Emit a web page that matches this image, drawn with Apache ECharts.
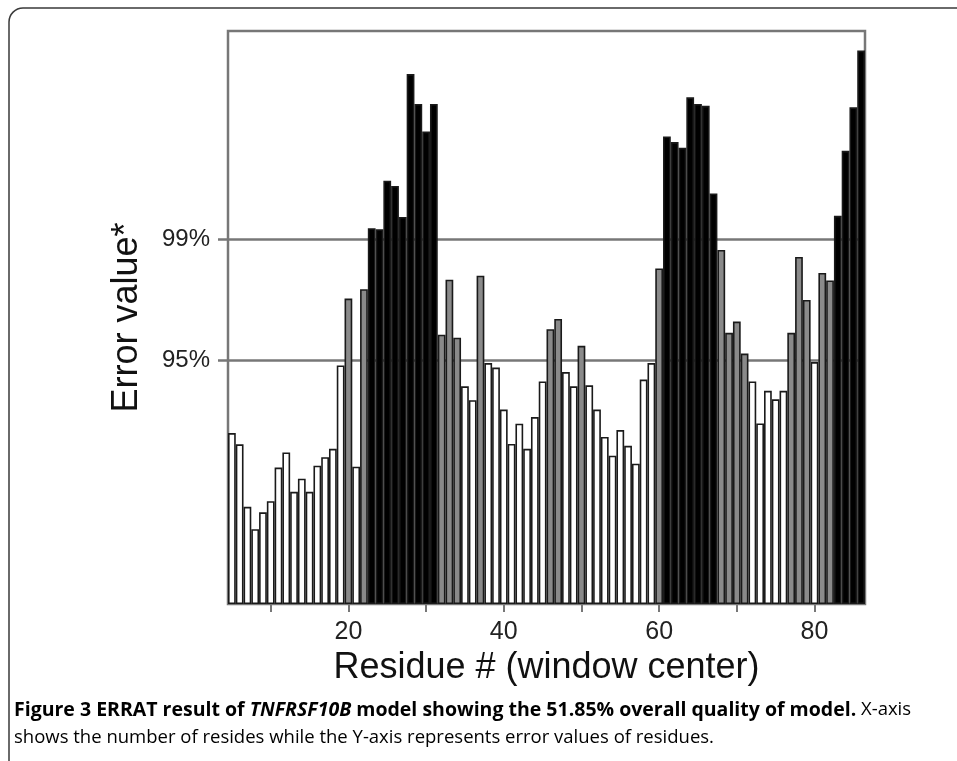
<!DOCTYPE html>
<html>
<head>
<meta charset="utf-8">
<script src="https://cdn.jsdelivr.net/npm/echarts@6/dist/echarts.min.js"></script>
<style>
  html, body { margin: 0; padding: 0; background: #ffffff; }
  #chart { width: 957px; height: 761px; }
</style>
</head>
<body>
<div id="chart"></div>
<script>
// Residue numbers (window center)
const residues = ['5','6','7','8','9','10','11','12','13','14','15','16','17','18','19','20',
  '21','22','23','24','25','26','27','28','29','30','31','32','33','34','35','36','37','38','39','40',
  '41','42','43','44','45','46','47','48','49','50','51','52','53','54','55','56','57','58','59','60',
  '61','62','63','64','65','66','67','68','69','70','71','72','73','74','75','76','77','78','79','80',
  '81','82','83','84','85','86'];

// Error values
const errorValues = [8.02, 7.49, 4.56, 3.51, 4.30, 4.82, 6.40, 7.11, 5.26, 5.88, 5.26, 6.49, 6.89, 7.28, 11.19, 14.33,
  6.44, 14.77, 17.63, 17.58, 19.86, 19.61, 18.16, 24.86, 23.46, 22.16, 23.46, 12.63, 15.21, 12.49, 10.21, 9.56, 15.40, 11.30, 11.09, 9.12,
  7.51, 8.46, 7.28, 8.77, 10.44, 12.89, 13.37, 10.88, 10.21, 12.11, 10.26, 9.12, 7.84, 6.96, 8.16, 7.42, 6.58, 10.53, 11.30, 15.74,
  21.93, 21.67, 21.40, 23.77, 23.46, 23.37, 19.26, 16.61, 12.72, 13.25, 11.75, 10.44, 8.47, 10.00, 9.60, 10.00, 12.72, 16.28, 14.26, 11.35,
  15.53, 15.18, 18.21, 21.26, 23.30, 25.96];

// Confidence thresholds and their labels
const thresholdValues = [11.44, 17.1];
const thresholdLabels = ['95%', '99%'];
const yMax = 26.88;

// Tick marks and labels on the x axis
const xTickMarks = ['10','20','30','40','50','60','70','80'];
const xTickLabels = ['20','40','60','80'];

const chart = echarts.init(document.getElementById('chart'), null, { renderer: 'canvas' });

function barColor(v) {
  if (v >= thresholdValues[1]) return '#000000';
  if (v >= thresholdValues[0]) return '#8a8a8a';
  return '#ffffff';
}

const captionFont = 'Open Sans, Noto Sans, sans-serif';

const option = {
  backgroundColor: '#ffffff',
  animation: false,
  textStyle: { fontFamily: 'Liberation Sans, Arial, sans-serif' },
  grid: {
    left: 228, right: 92, top: 31, bottom: 157,
    show: true, borderColor: '#777777', borderWidth: 2.5, backgroundColor: 'transparent'
  },
  xAxis: {
    type: 'category',
    data: residues,
    boundaryGap: true,
    name: 'Residue # (window center)',
    nameLocation: 'middle',
    nameGap: 45,
    nameTextStyle: { fontSize: 36, color: '#111111', fontFamily: 'Liberation Sans, Arial, sans-serif' },
    axisLine: { show: false },
    axisTick: {
      show: true, alignWithLabel: true, length: 8,
      interval: function (i, v) { return xTickMarks.indexOf(v) >= 0; },
      lineStyle: { color: '#777777', width: 2 }
    },
    axisLabel: {
      interval: function (i, v) { return xTickLabels.indexOf(v) >= 0; },
      fontSize: 25, color: '#222222', margin: 16,
      fontFamily: 'Liberation Sans, Arial, sans-serif'
    },
    splitLine: { show: false }
  },
  yAxis: {
    type: 'value',
    min: 0, max: yMax,
    name: 'Error value*',
    nameLocation: 'middle',
    nameRotate: 90,
    nameGap: 83,
    nameTextStyle: { fontSize: 36, color: '#111111', fontFamily: 'Liberation Sans, Arial, sans-serif' },
    axisLine: { show: false },
    axisTick: {
      show: true, inside: false, length: 10,
      customValues: thresholdValues,
      lineStyle: { color: '#777777', width: 2.5 }
    },
    axisLabel: {
      show: true,
      customValues: thresholdValues,
      formatter: function (v) {
        for (let i = 0; i < thresholdValues.length; i++) {
          if (Math.abs(v - thresholdValues[i]) < 1e-6) return thresholdLabels[i];
        }
        return '';
      },
      fontSize: 24, color: '#222222', margin: 18,
      fontFamily: 'Liberation Sans, Arial, sans-serif'
    },
    splitLine: { show: true, lineStyle: { color: '#777777', width: 2.5 } }
  },
  series: [{
    type: 'bar',
    data: errorValues,
    barCategoryGap: '0%',
    barGap: '0%',
    itemStyle: {
      color: function (p) { return barColor(p.value); },
      borderColor: '#1a1a1a',
      borderWidth: 1.6
    },
    emphasis: { disabled: true }
  }],
  graphic: [
    {
      type: 'rect',
      shape: { x: 9, y: 8, width: 980, height: 800, r: 14 },
      style: { fill: 'none', stroke: '#3a3a3a', lineWidth: 1.5 },
      silent: true
    },
    {
      type: 'text',
      left: 14,
      top: 700,
      style: {
        text: '{b|Figure 3 ERRAT result of }{bi|TNFRSF10B}{b| model showing the 51.85% overall quality of model.}{n| X-axis}\n{n|shows the number of resides while the Y-axis represents error values of residues.}',
        rich: {
          b: { fontFamily: captionFont, fontWeight: 'bold', fontSize: 19.5, color: '#231f20', lineHeight: 28 },
          bi: { fontFamily: captionFont, fontWeight: 'bold', fontStyle: 'italic', fontSize: 19.5, color: '#231f20', lineHeight: 28 },
          n: { fontFamily: captionFont, fontSize: 18.5, color: '#231f20', lineHeight: 28 }
        }
      },
      silent: true
    }
  ]
};

chart.setOption(option);
</script>
</body>
</html>
